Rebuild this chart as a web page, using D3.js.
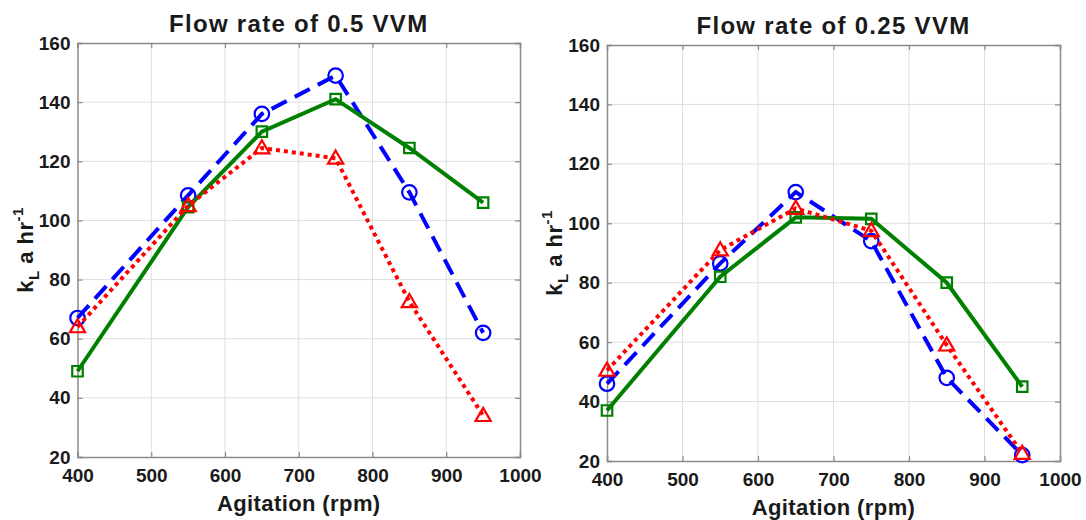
<!DOCTYPE html>
<html><head><meta charset="utf-8">
<script src="https://cdn.jsdelivr.net/npm/d3@7/dist/d3.min.js"></script>
<style>body{margin:0;background:#fff}svg{display:block}text{font-family:"Liberation Sans",Arial,sans-serif;font-weight:bold;fill:#1a1a1a}</style>
</head><body>
<script>
const agitation = [400, 550, 650, 750, 850, 950];
const xTicks = [400, 500, 600, 700, 800, 900, 1000];
const yTicks = [20, 40, 60, 80, 100, 120, 140, 160];
const titles = ["Flow rate of 0.5 VVM", "Flow rate of 0.25 VVM"];
// Left panel (0.5 VVM)
const blue05 = [67, 108.5, 136, 149, 109.5, 62];
const green05 = [49, 104.5, 130, 141, 124.5, 106];
const red05 = [64, 105, 124.5, 121, 72.5, 34];
// Right panel (0.25 VVM)
const blue025 = [46, 86.5, 110.5, 94, 48, 22];
const green025 = [37, 82, 102, 101.5, 80, 45];
const red025 = [50.5, 91, 105, 97.5, 59, 22.5];

const W = 1086, H = 520;
const svg = d3.select("body").append("svg").attr("width", W).attr("height", H);

const panels = [
  {title: titles[0], x0: 77.5, x1: 520, y0: 43, y1: 457, series: [blue05, green05, red05]},
  {title: titles[1], x0: 607, x1: 1060, y0: 45, y1: 461, series: [blue025, green025, red025]}
];
const styles = [
  {color: "#0000ff", dash: "17,9", marker: "circle"},
  {color: "#008000", dash: null, marker: "square"},
  {color: "#ff0000", dash: "4,4", marker: "triangle"}
];

panels.forEach(p => {
  const x = d3.scaleLinear().domain([400, 1000]).range([p.x0, p.x1]);
  const y = d3.scaleLinear().domain([20, 160]).range([p.y1, p.y0]);
  const g = svg.append("g");
  // grid
  g.selectAll(".gx").data(xTicks.slice(1, -1)).enter().append("line")
    .attr("x1", d => x(d)).attr("x2", d => x(d)).attr("y1", p.y0).attr("y2", p.y1)
    .attr("stroke", "#dedede").attr("stroke-width", 1);
  g.selectAll(".gy").data(yTicks.slice(1, -1)).enter().append("line")
    .attr("y1", d => y(d)).attr("y2", d => y(d)).attr("x1", p.x0).attr("x2", p.x1)
    .attr("stroke", "#dedede").attr("stroke-width", 1);
  // axes
  const ax = g.append("g").attr("transform", `translate(0,${p.y1})`)
    .call(d3.axisBottom(x).tickValues(xTicks).tickSize(-5).tickPadding(12).tickFormat(d3.format("d")));
  const ay = g.append("g").attr("transform", `translate(${p.x0},0)`)
    .call(d3.axisLeft(y).tickValues(yTicks).tickSize(-5).tickPadding(7).tickFormat(d3.format("d")));
  const axT = g.append("g").attr("transform", `translate(0,${p.y0})`)
    .call(d3.axisTop(x).tickValues(xTicks).tickSize(-5).tickFormat(""));
  const ayR = g.append("g").attr("transform", `translate(${p.x1},0)`)
    .call(d3.axisRight(y).tickValues(yTicks).tickSize(-5).tickFormat(""));
  [ax, ay, axT, ayR].forEach(a => {
    a.select(".domain").attr("stroke", "#8a8a8a").attr("stroke-width", 1.5);
    a.selectAll(".tick line").attr("stroke", "#8a8a8a").attr("stroke-width", 1.2);
    a.selectAll("text").attr("font-size", 19).attr("font-family", '"Liberation Sans",Arial,sans-serif').attr("font-weight", "bold").attr("fill", "#1a1a1a");
  });
  // title
  g.append("text").attr("x", (p.x0 + p.x1) / 2).attr("y", p.y0 - 11)
    .attr("text-anchor", "middle").attr("font-size", 24).attr("letter-spacing", 1.3).text(p.title);
  // x label
  g.append("text").attr("x", (p.x0 + p.x1) / 2).attr("y", p.y1 + 54)
    .attr("text-anchor", "middle").attr("font-size", 22).attr("letter-spacing", 0.4).text("Agitation (rpm)");
  // y label
  const yl = g.append("text").attr("transform", `translate(${p.x0 - 45},${(p.y0 + p.y1) / 2}) rotate(-90)`)
    .attr("text-anchor", "middle").attr("font-size", 22).attr("letter-spacing", 0.5);
  yl.append("tspan").text("k");
  yl.append("tspan").attr("font-size", 15).attr("dy", 6).text("L");
  yl.append("tspan").attr("dy", -6).text(" a hr");
  yl.append("tspan").attr("font-size", 15).attr("dy", -10).text("-1");

  // series
  p.series.forEach((vals, i) => {
    const s = styles[i];
    const pts = agitation.map((a, k) => [x(a), y(vals[k])]);
    g.append("path").attr("d", d3.line()(pts)).attr("fill", "none")
      .attr("stroke", s.color).attr("stroke-width", 4)
      .attr("stroke-dasharray", s.dash);
    const sym = s.marker === "circle" ? d3.symbolCircle : s.marker === "square" ? d3.symbolSquare : d3.symbolTriangle;
    const size = s.marker === "circle" ? 165 : s.marker === "square" ? 110 : 100;
    g.selectAll(null).data(pts).enter().append("path")
      .attr("transform", d => `translate(${d[0]},${d[1] + (s.marker === "triangle" ? 1 : 0)})`)
      .attr("d", d3.symbol().type(sym).size(size))
      .attr("fill", "none").attr("stroke", s.color).attr("stroke-width", 2.2);
  });
});
</script>
</body></html>
